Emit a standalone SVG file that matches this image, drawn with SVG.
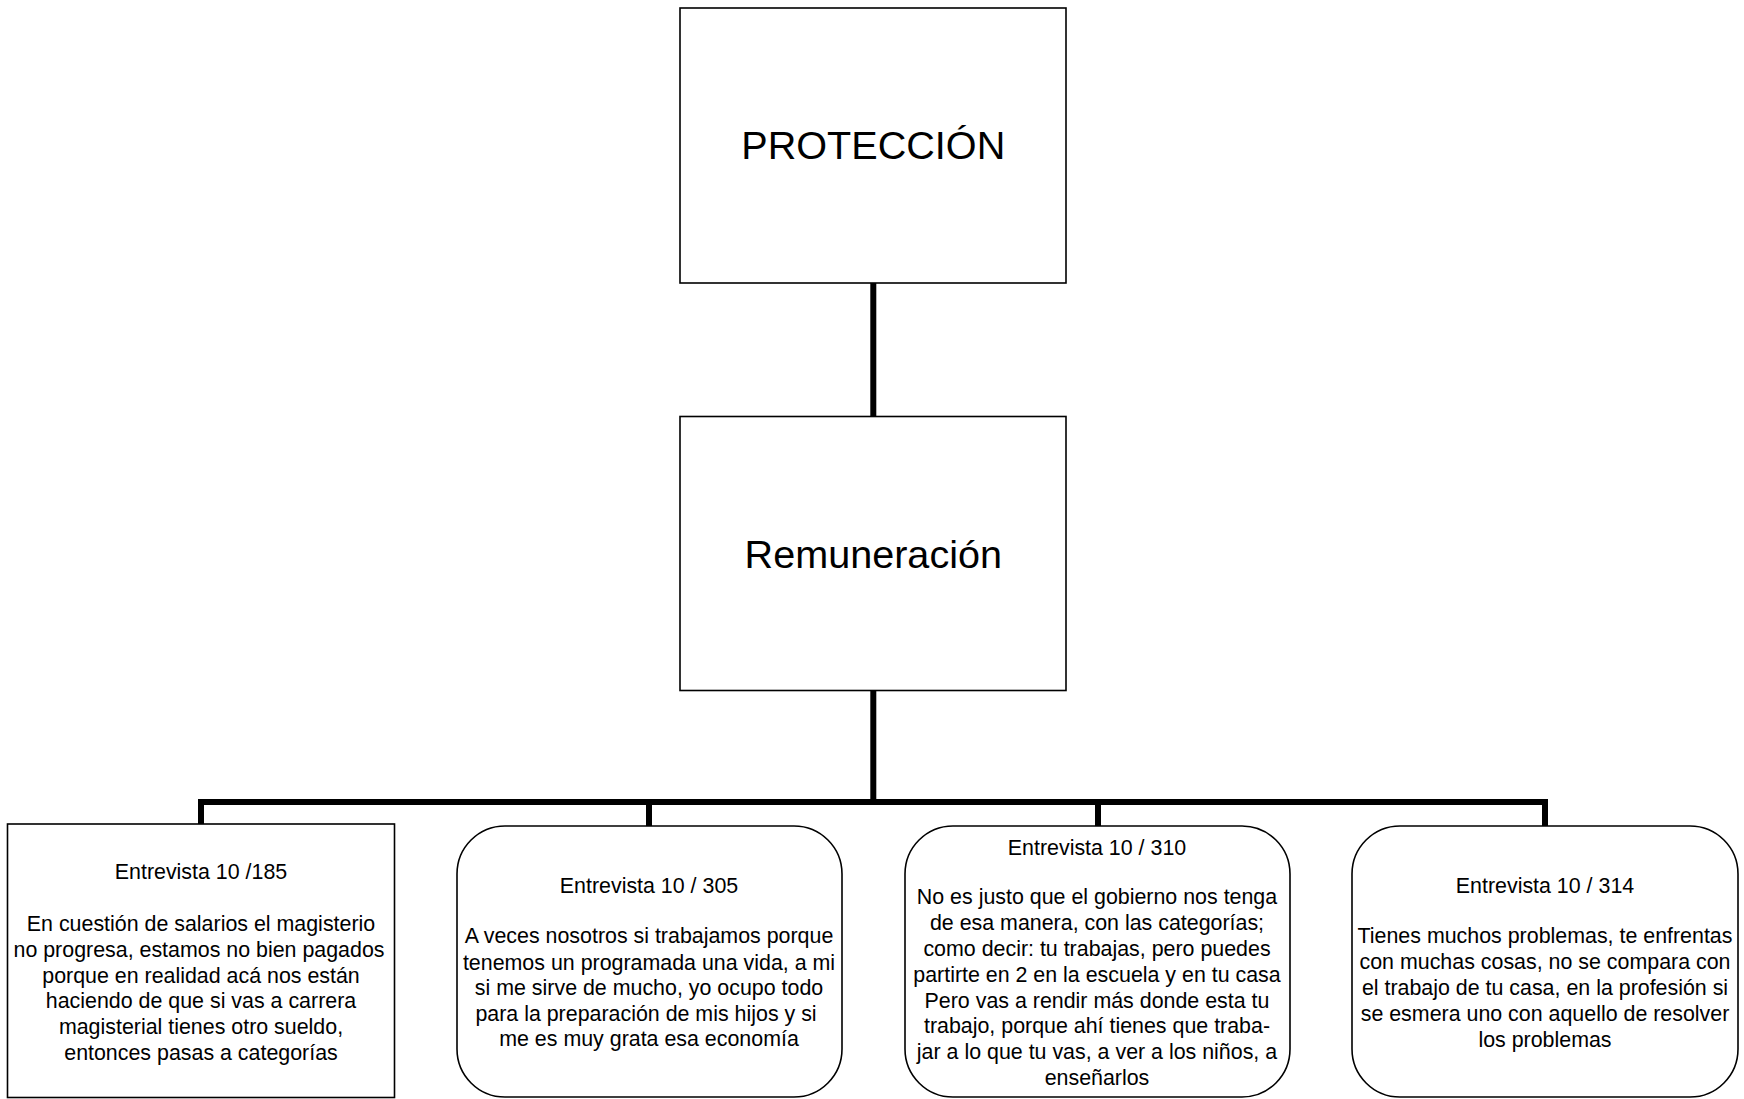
<svg xmlns="http://www.w3.org/2000/svg" width="1744" height="1099" viewBox="0 0 1744 1099">
  <style>
    .box { fill: #ffffff; stroke: #000000; stroke-width: 1.6; }
    .conn { fill: none; stroke: #000000; stroke-width: 6; stroke-linejoin: miter; stroke-linecap: butt; }
    .big { font-family: "Liberation Sans", Arial, sans-serif; font-size: 39.6px; fill: #000000; text-anchor: middle; }
    .t { font-family: "Liberation Sans", Arial, sans-serif; font-size: 21.4px; fill: #000000; text-anchor: middle; }
  </style>
  <rect x="0" y="0" width="1744" height="1099" fill="#ffffff"/>

  <g id="connectors">
    <path class="conn" d="M873.3,283 V417" stroke-width="5.5"/>
    <path class="conn" d="M873.3,691 V802"/>
    <path class="conn" d="M201,825 V802 H1545 V826"/>
    <path class="conn" d="M649,802 V826"/>
    <path class="conn" d="M1098,802 V826"/>
  </g>

  <g id="node-proteccion">
    <rect class="box" x="680" y="8" width="386" height="275"/>
    <text class="big" x="873.3" y="159">PROTECCIÓN</text>
  </g>

  <g id="node-remuneracion">
    <rect class="box" x="680" y="416.5" width="386" height="274"/>
    <text class="big" x="873.3" y="568">Remuneración</text>
  </g>

  <g id="node-entrevista-185">
    <rect class="box" x="7.5" y="824" width="387" height="273.5"/>
    <text class="t" x="201" y="879">Entrevista 10 /185</text>
    <text class="t" x="201" y="931">En cuestión de salarios el magisterio</text>
    <text class="t" x="199" y="957">no progresa, estamos no bien pagados</text>
    <text class="t" x="201" y="982.5">porque en realidad acá nos están</text>
    <text class="t" x="201" y="1008">haciendo de que si vas a carrera</text>
    <text class="t" x="201" y="1034">magisterial tienes otro sueldo,</text>
    <text class="t" x="201" y="1059.5">entonces pasas a categorías</text>
  </g>

  <g id="node-entrevista-305">
    <rect class="box" x="457" y="826" width="385" height="271" rx="48" ry="48"/>
    <text class="t" x="649" y="892.7">Entrevista 10 / 305</text>
    <text class="t" x="649" y="943.3">A veces nosotros si trabajamos porque</text>
    <text class="t" x="649" y="969.5">tenemos un programada una vida, a mi</text>
    <text class="t" x="649" y="995">si me sirve de mucho, yo ocupo todo</text>
    <text class="t" x="646" y="1020.5">para la preparación de mis hijos y si</text>
    <text class="t" x="649" y="1046">me es muy grata esa economía</text>
  </g>

  <g id="node-entrevista-310">
    <rect class="box" x="905" y="826" width="385" height="271" rx="48" ry="48"/>
    <text class="t" x="1097" y="855">Entrevista 10 / 310</text>
    <text class="t" x="1097" y="904">No es justo que el gobierno nos tenga</text>
    <text class="t" x="1097" y="930">de esa manera, con las categorías;</text>
    <text class="t" x="1097" y="956">como decir: tu trabajas, pero puedes</text>
    <text class="t" x="1097" y="981.7">partirte en 2 en la escuela y en tu casa</text>
    <text class="t" x="1097" y="1007.7">Pero vas a rendir más donde esta tu</text>
    <text class="t" x="1097" y="1033.3">trabajo, porque ahí tienes que traba-</text>
    <text class="t" x="1097" y="1059.3">jar a lo que tu vas, a ver a los niños, a</text>
    <text class="t" x="1097" y="1085">enseñarlos</text>
  </g>

  <g id="node-entrevista-314">
    <rect class="box" x="1352" y="826" width="386" height="271" rx="48" ry="48"/>
    <text class="t" x="1545" y="892.7">Entrevista 10 / 314</text>
    <text class="t" x="1545" y="943.3">Tienes muchos problemas, te enfrentas</text>
    <text class="t" x="1545" y="969.3">con muchas cosas, no se compara con</text>
    <text class="t" x="1545" y="995">el trabajo de tu casa, en la profesión si</text>
    <text class="t" x="1545" y="1020.7">se esmera uno con aquello de resolver</text>
    <text class="t" x="1545" y="1046.7">los problemas</text>
  </g>
</svg>
